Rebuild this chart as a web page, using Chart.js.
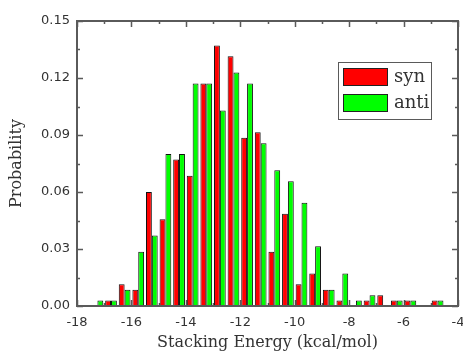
<!DOCTYPE html>
<html>
<head>
<meta charset="utf-8">
<script src="https://cdn.jsdelivr.net/npm/chart.js@4.4.1/dist/chart.umd.min.js"></script>
<style>
  html, body { margin: 0; padding: 0; background: #fff; }
  canvas { display: block; }
</style>
</head>
<body>
<canvas id="c" width="463" height="354"></canvas>
<script>
// Histogram bin centres (kcal/mol), 0.5 kcal/mol wide
const binCenters = [-17.25, -16.75, -16.25, -15.75, -15.25, -14.75, -14.25, -13.75, -13.25,
                    -12.75, -12.25, -11.75, -11.25, -10.75, -10.25, -9.75, -9.25, -8.75,
                    -8.25, -7.75, -7.25, -6.75, -6.25, -5.75, -5.25, -4.75];
const synProb  = [0, 0.0029, 0.0114, 0.0086, 0.0600, 0.0457, 0.0771, 0.0686, 0.1171,
                  0.1371, 0.1314, 0.0886, 0.0914, 0.0286, 0.0486, 0.0114, 0.0171, 0.0086,
                  0.0029, 0, 0.0029, 0.0057, 0.0029, 0.0029, 0, 0.0029];
const antiProb = [0.0029, 0.0029, 0.0086, 0.0286, 0.0371, 0.0800, 0.0800, 0.1171, 0.1171,
                  0.1029, 0.1229, 0.1171, 0.0857, 0.0714, 0.0657, 0.0543, 0.0314, 0.0086,
                  0.0171, 0.0029, 0.0057, 0, 0.0029, 0.0029, 0, 0.0029];
const seriesNames = ['syn', 'anti'];
const xTickValues = [-18, -16, -14, -12, -10, -8, -6, -4];
const yTickValues = [0, 0.03, 0.06, 0.09, 0.12, 0.15];

const axisColor = '#5a5a5a';
const textColor = '#333';

// Inward tick marks on all four sides (drawn beneath the bars) and the frame
const insideTicks = {
  id: 'insideTicks',
  beforeDatasetsDraw(chart) {
    const { ctx, chartArea: a, scales: { x, y } } = chart;
    ctx.save();
    ctx.strokeStyle = axisColor;
    ctx.lineWidth = 1.5;
    ctx.beginPath();
    for (let v = -18; v <= -4; v += 1) {
      const px = Math.round(x.getPixelForValue(v)) + 0.5;
      const len = (v % 2 === 0) ? 6 : 3;
      ctx.moveTo(px, a.top); ctx.lineTo(px, a.top + len);
      ctx.moveTo(px, a.bottom); ctx.lineTo(px, a.bottom - len);
    }
    for (let i = 0; i <= 10; i++) {
      const v = i * 0.015;
      const py = Math.round(y.getPixelForValue(v)) + 0.5;
      const len = (i % 2 === 0) ? 6 : 3;
      ctx.moveTo(a.left, py); ctx.lineTo(a.left + len, py);
      ctx.moveTo(a.right, py); ctx.lineTo(a.right - len, py);
    }
    ctx.stroke();
    ctx.restore();
  },
  afterDatasetsDraw(chart) {
    const { ctx, chartArea: a } = chart;
    ctx.save();
    ctx.strokeStyle = axisColor;
    ctx.lineWidth = 2;
    ctx.strokeRect(a.left, a.top, a.right - a.left, a.bottom - a.top);
    ctx.restore();
  }
};

// Boxed legend in the upper right of the plot
const boxedLegend = {
  id: 'boxedLegend',
  afterDraw(chart) {
    const ctx = chart.ctx;
    ctx.save();
    ctx.fillStyle = '#fff';
    ctx.fillRect(338, 62, 94, 57);
    ctx.strokeStyle = axisColor;
    ctx.lineWidth = 1;
    ctx.strokeRect(338.5, 62.5, 93, 57);
    ctx.font = '18px "DejaVu Serif"';
    ctx.textBaseline = 'middle';
    chart.data.datasets.forEach((ds, i) => {
      const top = 68 + i * 26;
      ctx.fillStyle = ds.backgroundColor;
      ctx.fillRect(343, top, 44, 18);
      ctx.strokeStyle = '#222';
      ctx.strokeRect(343.5, top + 0.5, 44, 17);
      ctx.fillStyle = textColor;
      ctx.fillText(ds.label, 394, top + 9);
    });
    ctx.restore();
  }
};

new Chart(document.getElementById('c'), {
  type: 'bar',
  data: {
    datasets: [
      {
        label: seriesNames[0],
        data: binCenters.map((c, i) => ({ x: c, y: synProb[i] })),
        backgroundColor: '#ff0000',
        borderColor: '#111',
        borderWidth: 1,
        borderSkipped: 'start'
      },
      {
        label: seriesNames[1],
        data: binCenters.map((c, i) => ({ x: c, y: antiProb[i] })),
        backgroundColor: '#00ff00',
        borderColor: '#111',
        borderWidth: 1,
        borderSkipped: 'start'
      }
    ]
  },
  options: {
    responsive: false,
    animation: false,
    devicePixelRatio: 1,
    categoryPercentage: 0.86,
    barPercentage: 1.0,
    layout: { padding: { top: 21, right: 5, left: 0, bottom: 0 } },
    plugins: {
      legend: { display: false },
      tooltip: { enabled: false }
    },
    scales: {
      x: {
        type: 'linear',
        offset: false,
        min: -18,
        max: -4,
        afterBuildTicks(scale) { scale.ticks = xTickValues.map(v => ({ value: v })); },
        afterFit(scale) { scale.height = 48; scale.paddingLeft = 0; scale.paddingRight = 0; },
        grid: { display: false, drawTicks: false, offset: false },
        border: { display: false },
        ticks: {
          color: textColor,
          font: { family: 'DejaVu Sans', size: 13 },
          padding: 9,
          maxRotation: 0,
          callback: v => String(v)
        },
        title: {
          display: true,
          text: 'Stacking Energy (kcal/mol)',
          color: textColor,
          font: { family: 'DejaVu Serif', size: 16 },
          padding: { top: 0, bottom: 2 }
        }
      },
      y: {
        min: 0,
        max: 0.15,
        afterBuildTicks(scale) { scale.ticks = yTickValues.map(v => ({ value: v })); },
        afterFit(scale) { scale.width = 77; scale.paddingTop = 0; scale.paddingBottom = 0; },
        grid: { display: false, drawTicks: false },
        border: { display: false },
        ticks: {
          color: textColor,
          font: { family: 'DejaVu Sans', size: 13 },
          padding: 7,
          callback: v => Number(v).toFixed(2)
        },
        title: {
          display: true,
          text: 'Probability',
          color: textColor,
          font: { family: 'DejaVu Serif', size: 16 },
          padding: { top: 7, bottom: 0 }
        }
      }
    }
  },
  plugins: [insideTicks, boxedLegend]
});
</script>
</body>
</html>
